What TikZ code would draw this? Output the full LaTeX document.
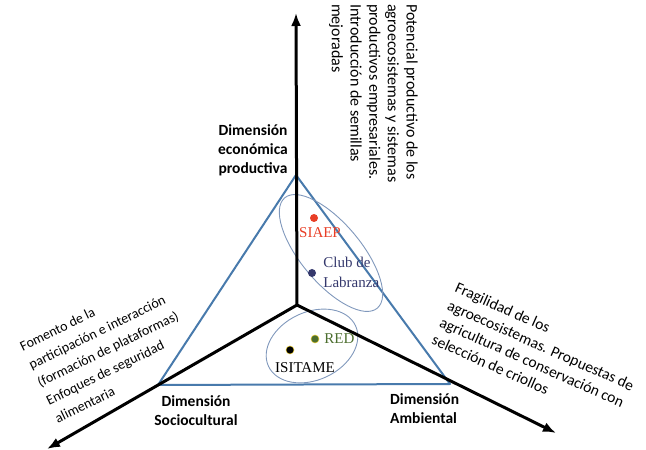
\documentclass[tikz,border=0pt]{standalone}
\usepackage{fontspec}
\setmainfont{Carlito}
\newfontfamily\serifnames{Liberation Serif}
\usetikzlibrary{arrows.meta,positioning}
\definecolor{triblue}{RGB}{72,122,172}
\definecolor{ellblue}{RGB}{128,152,188}
\definecolor{siaepred}{RGB}{232,62,38}
\definecolor{clubblue}{RGB}{52,56,108}
\definecolor{redgreen}{RGB}{76,110,46}
\tikzset{
    x=1pt, y=1pt, % one unit = one pixel of the reference
    axis/.style={line width=3pt, -{Latex[length=13pt,width=10pt]}}, % the three black axes
    tri/.style={triblue, line width=2pt, line join=round}, % blue triangle
    group/.style={ellblue, line width=0.9pt}, % ellipses round the groups
    dim/.style={font=\fontsize{15.5}{19}\selectfont\bfseries, align=center, inner sep=0pt},
    note/.style={font=\fontsize{14}{20}\selectfont, align=left, inner sep=0pt},
    actor/.style={font=\serifnames\fontsize{15}{20}\selectfont, align=left, inner sep=0pt},
    dot/.style={circle, inner sep=0pt, minimum size=8pt},
}

\begin{document}
\begin{tikzpicture}
  \useasboundingbox (0,0) rectangle (646,450);

  % triangle of the three dimensions
  \coordinate (T_top)   at (296,275);
  \coordinate (T_left)  at (158,65);
  \coordinate (T_right) at (450,66);
  \draw[tri] (T_top) -- (T_left) -- (T_right) -- cycle;

  % groups
  \draw[group, shift={(331,197)}, rotate=-50] (0,0) ellipse (72 and 30);
  \draw[group, shift={(312,104)}, rotate=25]  (0,0) ellipse (48 and 34);

  % axes
  \coordinate (O)       at (297,145);
  \coordinate (eco_tip) at (296,437);
  \coordinate (soc_tip) at (47,1);
  \coordinate (amb_tip) at (556,17);
  \path[axis]
    (O) edge (eco_tip)
        edge (soc_tip)
        edge (amb_tip);

  % actors
  \node[dot, fill=siaepred] (siaep) at (314,232) {};
  \node[actor, text=siaepred, below=5pt of siaep, xshift=6pt] (siaep_l) {SIAEP};
  \node[dot, fill=clubblue] (club) at (312,177) {};
  \node[actor, text=clubblue, right=7pt of club, yshift=1pt] (club_l) {Club de\\Labranza};
  \node[dot, fill=redgreen, draw=yellow!60!brown, line width=0.5pt] (red) at (315,111) {};
  \node[actor, text=redgreen, right=5pt of red] (red_l) {RED};
  \node[dot, fill=black, draw=yellow!60!brown, line width=0.5pt] (isitame) at (290,100) {};
  \node[actor, below=8pt of isitame, xshift=15pt] (isitame_l) {ISITAME};

  % dimensions
  \node[dim] (eco) at (253,300) {Dimensión\\económica\\productiva};
  \node[dim] (soc) at (196,39) {Dimensión\\Sociocultural};
  \node[dim, align=left, anchor=west] (amb) at (390,41) {Dimensión\\Ambiental};

  % notes along the axes
  \node[note, font=\fontsize{16}{18.7}\selectfont, rotate=-90, anchor=north west] (eco_n) at (418,446)
    {Potencial productivo de los\\agroecosistemas y sistemas\\productivos empresariales.\\Introducción de semillas\\mejoradas};
  \node[note, rotate=26] (soc_n) at (108,101)
    {Fomento de la\\participación e interacción\\(formación de plataformas)\\Enfoques de seguridad\\alimentaria};
  \node[note, font=\fontsize{15.5}{19}\selectfont, rotate=-24] (amb_n) at (537,96)
    {Fragilidad de los\\agroecosistemas. Propuestas de\\agricultura de conservación con\\selección de criollos};
\end{tikzpicture}
\end{document}
